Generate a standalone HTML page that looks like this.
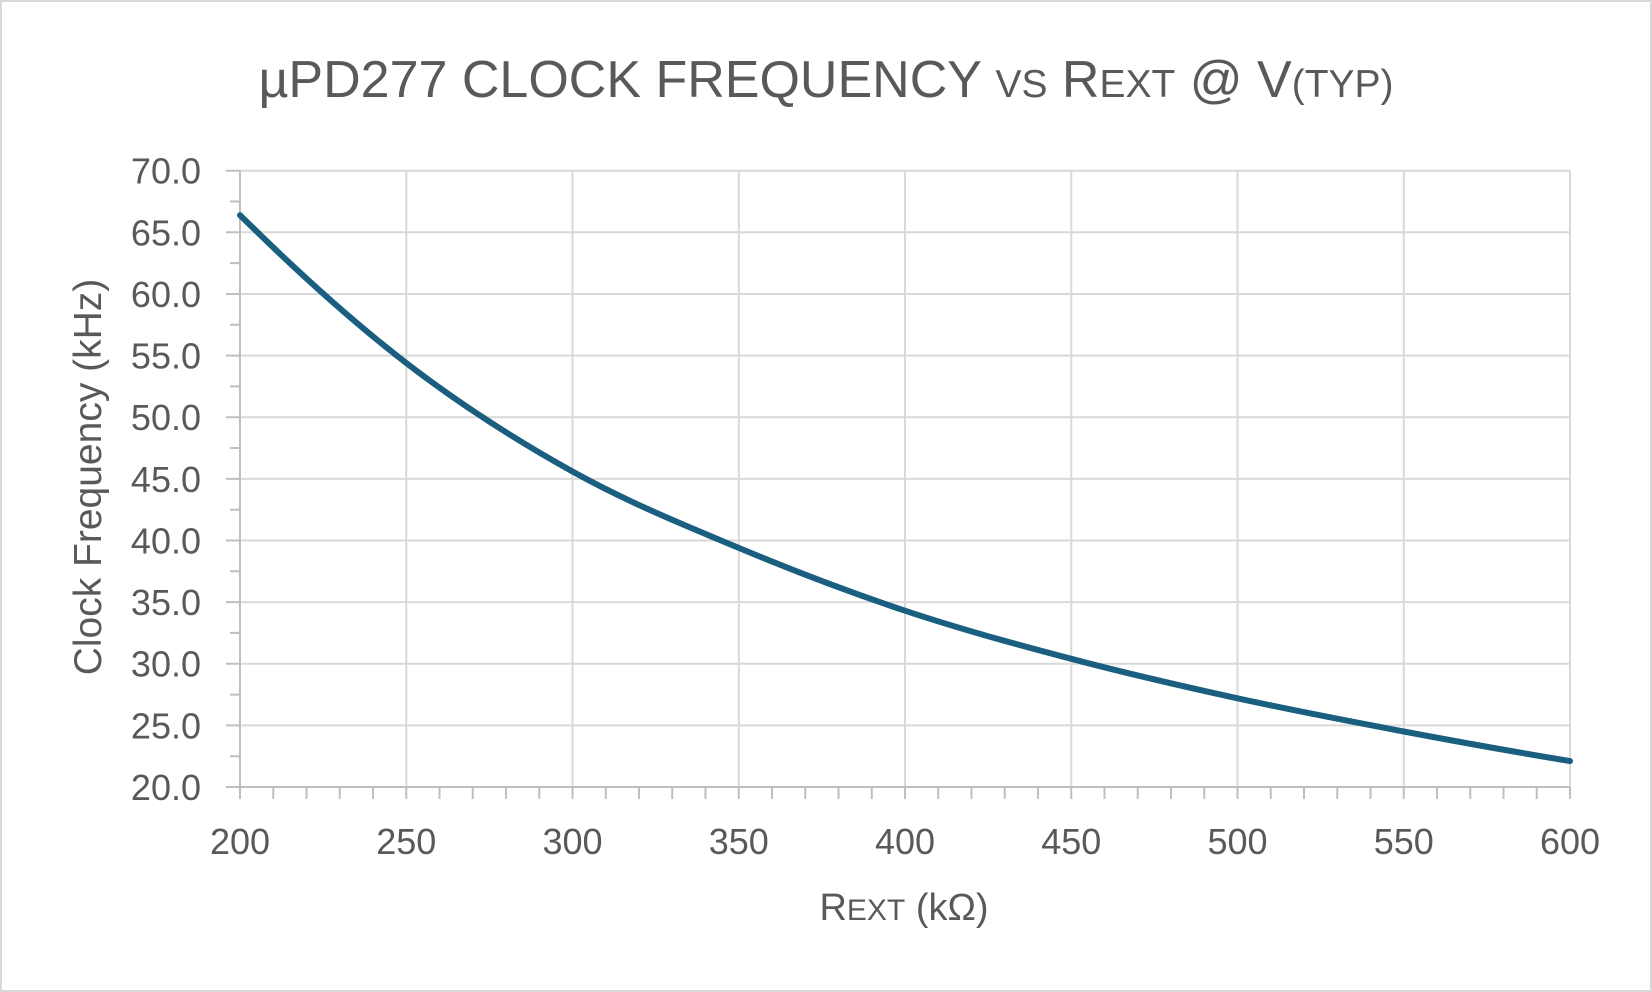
<!DOCTYPE html>
<html><head><meta charset="utf-8"><style>
html,body{margin:0;padding:0;background:#fff;}
svg{display:block;font-family:"Liberation Sans",sans-serif;}
</style></head><body>
<svg width="1652" height="992" viewBox="0 0 1652 992" xmlns="http://www.w3.org/2000/svg">
<rect x="1" y="1" width="1650" height="990" fill="#fff" stroke="#d9d9d9" stroke-width="2"/>
<text x="826" y="97" text-anchor="middle" font-size="52" fill="#595959">µPD277 CLOCK FREQUENCY <tspan font-size="39">VS</tspan> R<tspan font-size="39">EXT</tspan> @ V<tspan font-size="39">(TYP)</tspan></text>
<g stroke="#d9d9d9" stroke-width="2">
<line x1="240" y1="170.7" x2="1570" y2="170.7"/><line x1="240" y1="232.3" x2="1570" y2="232.3"/>
<line x1="240" y1="294" x2="1570" y2="294"/><line x1="240" y1="355.6" x2="1570" y2="355.6"/>
<line x1="240" y1="417.2" x2="1570" y2="417.2"/><line x1="240" y1="478.9" x2="1570" y2="478.9"/>
<line x1="240" y1="540.5" x2="1570" y2="540.5"/><line x1="240" y1="602.1" x2="1570" y2="602.1"/>
<line x1="240" y1="663.7" x2="1570" y2="663.7"/><line x1="240" y1="725.4" x2="1570" y2="725.4"/>
<line x1="406.3" y1="170.7" x2="406.3" y2="787"/><line x1="572.5" y1="170.7" x2="572.5" y2="787"/>
<line x1="738.8" y1="170.7" x2="738.8" y2="787"/><line x1="905" y1="170.7" x2="905" y2="787"/>
<line x1="1071.3" y1="170.7" x2="1071.3" y2="787"/><line x1="1237.5" y1="170.7" x2="1237.5" y2="787"/>
<line x1="1403.8" y1="170.7" x2="1403.8" y2="787"/><line x1="1570" y1="170.7" x2="1570" y2="787"/>
</g>
<g stroke="#bfbfbf" stroke-width="2">
<line x1="240" y1="170.7" x2="240" y2="787"/><line x1="226" y1="787" x2="1570" y2="787"/>
<path d="M226,170.7H240M230,201.5H240M226,232.3H240M230,263.1H240M226,294H240M230,324.8H240M226,355.6H240M230,386.4H240M226,417.2H240M230,448H240M226,478.9H240M230,509.7H240M226,540.5H240M230,571.3H240M226,602.1H240M230,632.9H240M226,663.7H240M230,694.6H240M226,725.4H240M230,756.2H240"/>
<path d="M240,787V799M273.25,787V799M306.5,787V799M339.75,787V799M373,787V799M406.25,787V799M439.5,787V799M472.75,787V799M506,787V799M539.25,787V799M572.5,787V799M605.75,787V799M639,787V799M672.25,787V799M705.5,787V799M738.75,787V799M772,787V799M805.25,787V799M838.5,787V799M871.75,787V799M905,787V799M938.25,787V799M971.5,787V799M1004.75,787V799M1038,787V799M1071.25,787V799M1104.5,787V799M1137.75,787V799M1171,787V799M1204.25,787V799M1237.5,787V799M1270.75,787V799M1304,787V799M1337.25,787V799M1370.5,787V799M1403.75,787V799M1437,787V799M1470.25,787V799M1503.5,787V799M1536.75,787V799M1570,787V799"/>
</g>
<g font-size="36" fill="#595959" text-anchor="end">
<text x="201" y="183.7">70.0</text><text x="201" y="245.3">65.0</text><text x="201" y="307">60.0</text>
<text x="201" y="368.6">55.0</text><text x="201" y="430.2">50.0</text><text x="201" y="491.9">45.0</text>
<text x="201" y="553.5">40.0</text><text x="201" y="615.1">35.0</text><text x="201" y="676.7">30.0</text>
<text x="201" y="738.4">25.0</text><text x="201" y="800">20.0</text>
</g>
<g font-size="36" fill="#595959" text-anchor="middle">
<text x="240" y="854">200</text><text x="406.25" y="854">250</text><text x="572.5" y="854">300</text>
<text x="738.75" y="854">350</text><text x="905" y="854">400</text><text x="1071.25" y="854">450</text>
<text x="1237.5" y="854">500</text><text x="1403.75" y="854">550</text><text x="1570" y="854">600</text>
</g>
<text x="904" y="920" text-anchor="middle" font-size="38" fill="#595959">R<tspan font-size="30">EXT</tspan> (kΩ)</text>
<text transform="translate(101,477) rotate(-90)" text-anchor="middle" font-size="39" fill="#595959">Clock Frequency (kHz)</text>
<path d="M240,215.07 C295.4,270 350.85,320.3 406.25,363 C461.7,405.7 517.1,440.7 572.5,471.5 C627.9,502.3 683.3,524.7 738.75,547.9 C794.2,571.1 849.6,592.2 905,610.7 C960.4,629.2 1015.8,644.2 1071.25,658.8 C1126.7,673.4 1182.1,686.2 1237.5,698.3 C1292.9,710.4 1348.3,721 1403.75,731.5 C1459.2,742 1514.6,751.9 1570,761.1" fill="none" stroke="#1a5f80" stroke-width="6" stroke-linecap="round"/>
</svg>
</body></html>
